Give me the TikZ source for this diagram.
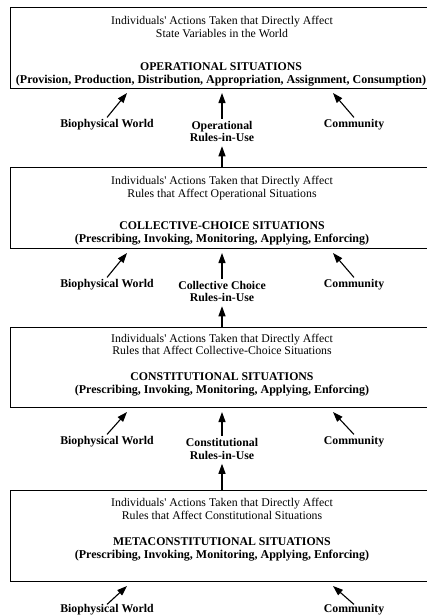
\documentclass[tikz,border=0pt]{standalone}
\usepackage{fontspec}
\setmainfont{Liberation Serif}
\usetikzlibrary{arrows.meta}
\newcommand{\parline}[1]{{\fontsize{12.0}{12.8}\selectfont #1}}
\begin{document}
\begin{tikzpicture}[x=1pt,y=-1pt,
  sitbox/.style={draw=black,line width=1pt,minimum width=450pt,minimum height=#1,inner sep=0pt,anchor=north west},
  reg/.style={font=\fontsize{11.8}{12.6}\selectfont,align=center,inner sep=0pt},
  bld/.style={font=\fontsize{11.8}{12.8}\selectfont\bfseries,align=center,inner sep=0pt},
  arr/.style={line width=1.1pt,-{Triangle[length=10pt,width=7pt]}}]
\useasboundingbox (0,0) rectangle (427,616);
\clip (0,0) rectangle (427,616);

% ---------- Level 1: operational ----------
\node[sitbox=81pt] (b1) at (10,7) {};
\node[reg] (b1r) at (222,27) {Individuals\textquotesingle{} Actions Taken that Directly Affect\\State Variables in the World};
\node[bld] (b1t) at (221,74.5) {OPERATIONAL SITUATIONS\\\parline{(Provision, Production, Distribution, Appropriation, Assignment, Consumption)}};

\node[bld] (bw1) at (107,125) {Biophysical World};
\node[bld] (ru1) at (222,131.5) {Operational\\Rules-in-Use};
\node[bld] (cm1) at (354,125) {Community};
\coordinate (b1w) at (127,93);
\coordinate (b1c) at (222,93);
\coordinate (b1m) at (333,93);
\draw[arr] ([yshift=2pt]bw1.north) -- (b1w);
\draw[arr] ([yshift=2pt]ru1.north) -- (b1c);
\draw[arr] ([yshift=2pt]cm1.north) -- (b1m);

% ---------- Level 2: collective choice ----------
\node[sitbox=81pt] (b2) at (10,167) {};
\node[reg] (b2r) at (222,188) {Individuals\textquotesingle{} Actions Taken that Directly Affect\\Rules that Affect Operational Situations};
\node[bld] (b2t) at (222,233.5) {COLLECTIVE-CHOICE SITUATIONS\\\parline{(Prescribing, Invoking, Monitoring, Applying, Enforcing)}};
\draw[arr] (b2.north west -| ru1) -- ([yshift=-4pt]ru1.south);

\node[bld] (bw2) at (107,285) {Biophysical World};
\node[bld] (ru2) at (222,291.5) {Collective Choice\\Rules-in-Use};
\node[bld] (cm2) at (354,285) {Community};
\coordinate (b2w) at (127,253);
\coordinate (b2c) at (222,253);
\coordinate (b2m) at (333,253);
\draw[arr] ([yshift=2pt]bw2.north) -- (b2w);
\draw[arr] ([yshift=2pt]ru2.north) -- (b2c);
\draw[arr] ([yshift=2pt]cm2.north) -- (b2m);

% ---------- Level 3: constitutional ----------
\node[sitbox=80pt] (b3) at (10,327) {};
\node[reg] (b3r) at (222,344.5) {Individuals\textquotesingle{} Actions Taken that Directly Affect\\Rules that Affect Collective-Choice Situations};
\node[bld] (b3t) at (222,384.5) {CONSTITUTIONAL SITUATIONS\\\parline{(Prescribing, Invoking, Monitoring, Applying, Enforcing)}};
\draw[arr] (b3.north west -| ru2) -- ([yshift=-4pt]ru2.south);

\node[bld] (bw3) at (107,442) {Biophysical World};
\node[bld] (ru3) at (222,449) {Constitutional\\Rules-in-Use};
\node[bld] (cm3) at (354,442) {Community};
\coordinate (b3w) at (127,412);
\coordinate (b3c) at (222,412);
\coordinate (b3m) at (333,412);
\draw[arr] ([yshift=2pt]bw3.north) -- (b3w);
\draw[arr] ([yshift=2pt]ru3.north) -- (b3c);
\draw[arr] ([yshift=2pt]cm3.north) -- (b3m);

% ---------- Level 4: metaconstitutional ----------
\node[sitbox=91pt] (b4) at (10,490) {};
\node[reg] (b4r) at (222,509) {Individuals\textquotesingle{} Actions Taken that Directly Affect\\Rules that Affect Constitutional Situations};
\node[bld] (b4t) at (222,549.5) {METACONSTITUTIONAL SITUATIONS\\\parline{(Prescribing, Invoking, Monitoring, Applying, Enforcing)}};
\draw[arr] (b4.north west -| ru3) -- ([yshift=-4pt]ru3.south);

\node[bld] (bw4) at (107,610) {Biophysical World};
\node[bld] (cm4) at (354,610) {Community};
\coordinate (b4w) at (127,586);
\coordinate (b4m) at (333,586);
\draw[arr] (bw4.north) -- (b4w);
\draw[arr] (cm4.north) -- (b4m);
\end{tikzpicture}
\end{document}
